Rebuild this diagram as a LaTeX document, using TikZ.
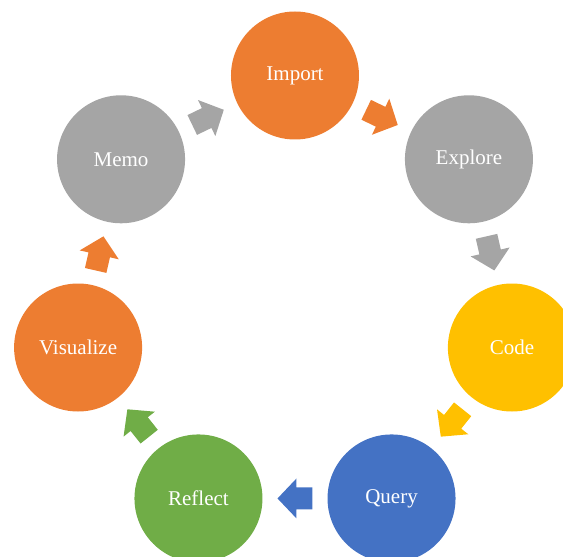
\documentclass[tikz,border=0pt]{standalone}
\usepackage{fontspec}
\setmainfont{Liberation Serif}
\usetikzlibrary{calc}
\definecolor{cOrange}{HTML}{ED7D31}
\definecolor{cGray}{HTML}{A5A5A5}
\definecolor{cYellow}{HTML}{FFC000}
\definecolor{cBlue}{HTML}{4472C4}
\definecolor{cGreen}{HTML}{70AD47}
\tikzset{
  stage/.style={circle, minimum size=128pt, inner sep=0pt, fill=#1,
    text=white, font=\fontsize{21}{24}\selectfont},
}
% block arrow between two named nodes: colour, from, to, direction angle
\newcommand\cyclearrow[4]{%
  \fill[#1, shift={($(#2)!0.5!(#3)$)}, rotate=#4]
    (-17.5,-11) -- (-1.5,-11) -- (-1.5,-20) -- (17.5,0) -- (-1.5,20)
    -- (-1.5,11) -- (-17.5,11) -- cycle;
}
\begin{document}
\begin{tikzpicture}[x=1pt,y=1pt]
\useasboundingbox (-295,-259) rectangle (268,298);
\clip (-295,-259) rectangle (268,298);
\def\R{222.5}
\node[stage=cOrange] (import) at (90:\R) {Import};
\node[stage=cGray] (explore) at (38.571:\R) {Explore};
\node[stage=cYellow] (code) at (-12.857:\R) {Code};
\node[stage=cBlue] (query) at (-64.286:\R) {Query};
\node[stage=cGreen] (reflect) at (-115.714:\R) {Reflect};
\node[stage=cOrange] (visualize) at (-167.143:\R) {Visualize};
\node[stage=cGray] (memo) at (141.429:\R) {Memo};
\cyclearrow{cOrange}{import}{explore}{-25.714}
\cyclearrow{cGray}{explore}{code}{-77.143}
\cyclearrow{cYellow}{code}{query}{-128.571}
\cyclearrow{cBlue}{query}{reflect}{180}
\cyclearrow{cGreen}{reflect}{visualize}{128.571}
\cyclearrow{cOrange}{visualize}{memo}{77.143}
\cyclearrow{cGray}{memo}{import}{25.714}
\end{tikzpicture}
\end{document}
